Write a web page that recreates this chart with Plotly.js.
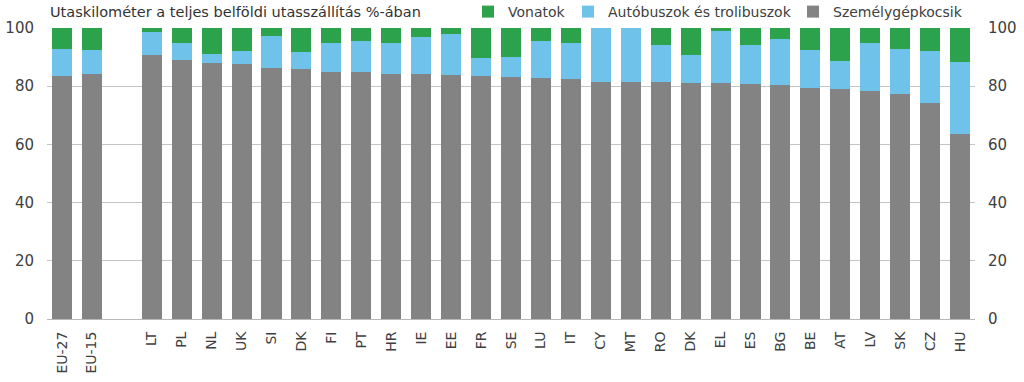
<!DOCTYPE html>
<html>
<head>
<meta charset="utf-8">
<script src="https://cdn.plot.ly/plotly-3.0.1.min.js"></script>
<style>html,body{margin:0;padding:0;background:#fff;}#chart{width:1024px;height:382px;}</style>
</head>
<body>
<div id="chart"></div>
<script>
// Category labels (empty string = spacer slot between EU aggregates and countries)
const labels = ['EU-27','EU-15','','LT','PL','NL','UK','SI','DK','FI','PT','HR','IE','EE','FR','SE','LU','IT','CY','MT','RO','DK','EL','ES','BG','BE','AT','LV','SK','CZ','HU'];
// Share of inland passenger-km (%)
const cars   = [83.6,84.1,null,90.7,89.0,88.0,87.5,86.4,85.9,85.0,84.8,84.3,84.1,83.7,83.4,83.1,82.9,82.6,81.6,81.6,81.6,81.2,81.2,80.8,80.5,79.4,78.9,78.4,77.2,74.2,63.5];
const buses  = [9.1,8.2,null,8.0,5.7,3.2,4.7,11.0,5.7,9.7,10.6,10.6,12.7,14.2,6.2,7.0,12.5,12.1,18.4,18.4,12.7,9.6,17.8,13.5,15.8,13.0,9.9,16.3,15.6,18.0,24.7];
const trains = [7.3,7.7,null,1.3,5.3,8.8,7.8,2.6,8.4,5.3,4.6,5.1,3.2,2.1,10.4,9.9,4.6,5.3,0.0,0.0,5.7,9.2,1.0,5.7,3.7,7.6,11.2,5.3,7.2,7.8,11.8];
const yTicks = [0,20,40,60,80,100];
const seriesNames = ['Személygépkocsik','Autóbuszok és trolibuszok','Vonatok'];
const titleText = 'Utaskilométer a teljes belföldi utasszállítás %-ában';

const xs = labels.map((_, i) => i);
const FONT = 'DejaVu Sans, sans-serif';
const TXT = '#404040';

const traces = [
  {type:'bar', name:seriesNames[0], x:xs, y:cars,   marker:{color:'#838383'}, legend:'legend3'},
  {type:'bar', name:seriesNames[1], x:xs, y:buses,  marker:{color:'#6fc3eb'}, legend:'legend2'},
  {type:'bar', name:seriesNames[2], x:xs, y:trains, marker:{color:'#2ca24c'}, legend:'legend'},
  {type:'scatter', x:xs, y:cars, yaxis:'y2', mode:'none', showlegend:false, hoverinfo:'skip'}
];

function leg(px) {
  return {orientation:'h', x:(px-47)/928, xanchor:'left', xref:'paper', y:1-12/382, yanchor:'middle', yref:'container',
          font:{family:FONT, size:14, color:TXT}, itemwidth:30, bgcolor:'rgba(0,0,0,0)'};
}

const layout = {
  width:1024, height:382,
  margin:{l:47, r:49, t:28, b:63, autoexpand:false},
  paper_bgcolor:'#fff', plot_bgcolor:'#fff',
  barmode:'stack', bargap:0.33,
  font:{family:FONT, color:TXT, size:14},
  title:{text:titleText, x:50/1024, xanchor:'left', xref:'container', y:1-12/382, yanchor:'middle', yref:'container',
         font:{family:FONT, size:14.5, color:'#333'}},
  showlegend:true,
  legend:leg(508-40),
  legend2:leg(608-40),
  legend3:leg(833-40),
  xaxis:{range:[-0.5, labels.length-0.5], tickmode:'array', tickvals:xs, ticktext:labels, tickangle:-90,
         showgrid:false, zeroline:false, showline:true, linecolor:'#b8b8b8', linewidth:1, ticks:'',
         ticklabelstandoff:6, tickfont:{family:FONT, size:14, color:TXT}, fixedrange:true},
  yaxis:{range:[0,100], tickmode:'array', tickvals:yTicks, showgrid:true, gridcolor:'#c4c4c4', gridwidth:1,
         zeroline:false, showline:false, ticks:'', ticklabelstandoff:12,
         tickfont:{family:FONT, size:15, color:TXT}, fixedrange:true},
  yaxis2:{range:[0,100], overlaying:'y', side:'right', tickmode:'array', tickvals:yTicks, showgrid:false,
          zeroline:false, showline:false, ticks:'', ticklabelstandoff:12,
          tickfont:{family:FONT, size:15, color:TXT}, fixedrange:true}
};

Plotly.newPlot('chart', traces, layout, {displayModeBar:false, staticPlot:true});
</script>
</body>
</html>
